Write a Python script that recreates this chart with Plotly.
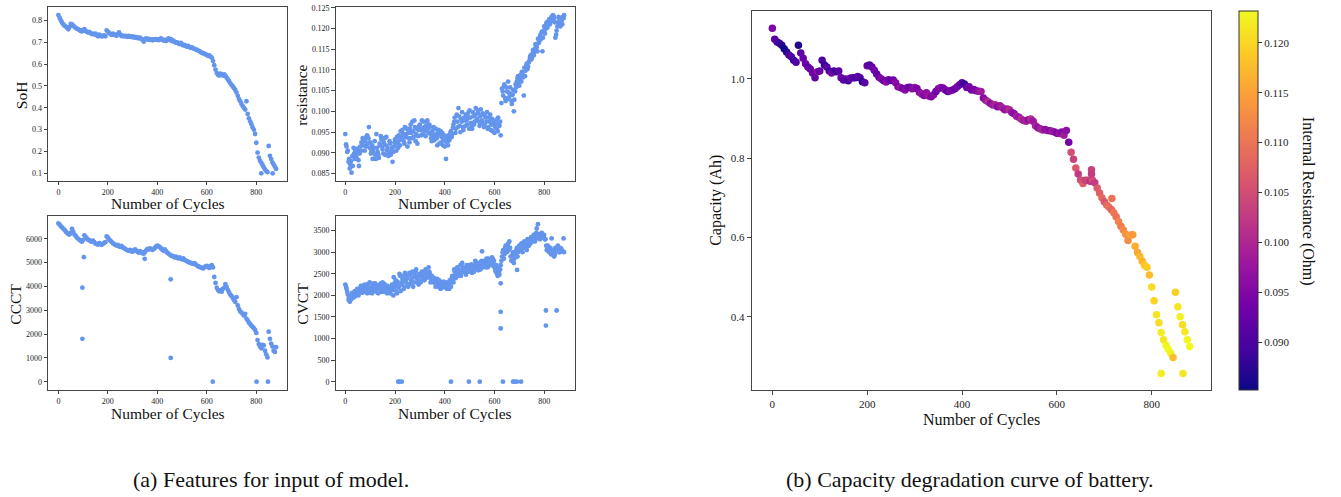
import plotly.graph_objects as go

# ---------------- data ----------------
cycles = list(range(0, 885, 5))
cycles_mid = list(range(3, 883, 5))

soh = [
    0.825, 0.812, 0.800, 0.790, 0.782, 0.776, 0.772, 0.768, 0.760, 0.770,
    0.785, 0.782, 0.776, 0.771, 0.766, 0.762, 0.760, 0.756, 0.752, 0.750,
    0.757, 0.760, 0.752, 0.748, 0.745, 0.748, 0.742, 0.738, 0.740, 0.736,
    0.740, 0.733, 0.728, 0.735, 0.731, 0.727, 0.729, 0.732, 0.728, 0.755,
    0.748, 0.743, 0.738, 0.734, 0.740, 0.736, 0.733, 0.730, 0.738, 0.745,
    0.735, 0.729, 0.731, 0.727, 0.730, 0.728, 0.725, 0.729, 0.726, 0.724,
    0.727, 0.722, 0.725, 0.720, 0.723, 0.718, 0.722, 0.716, 0.712, 0.703,
    0.715, 0.718, 0.713, 0.716, 0.711, 0.714, 0.709, 0.713, 0.711, 0.715,
    0.713, 0.710, 0.715, 0.718, 0.712, 0.708, 0.711, 0.706, 0.712, 0.718,
    0.710, 0.715, 0.705, 0.708, 0.702, 0.698, 0.700, 0.695, 0.692, 0.697,
    0.690, 0.686, 0.688, 0.683, 0.680, 0.684, 0.678, 0.675, 0.677, 0.672,
    0.670, 0.668, 0.665, 0.662, 0.660, 0.655, 0.652, 0.650, 0.648, 0.645,
    0.642, 0.638, 0.640, 0.634, 0.630, 0.615, 0.595, 0.575, 0.560, 0.552,
    0.548, 0.556, 0.552, 0.548, 0.553, 0.547, 0.538, 0.530, 0.522, 0.512,
    0.505, 0.498, 0.490, 0.482, 0.470, 0.455, 0.440, 0.430, 0.418, 0.408,
    0.400, 0.392, 0.430, 0.372, 0.352, 0.338, 0.325, 0.310, 0.300, 0.280,
    0.240, 0.195, 0.172, 0.158, 0.148, 0.138, 0.128, 0.118, 0.110, 0.105,
    0.225, 0.180, 0.165, 0.150, 0.140, 0.130, 0.120,
]

resistance = [
    0.0945, 0.0915, 0.0905, 0.0885, 0.0872, 0.0852, 0.0868, 0.0898, 0.0905, 0.0889,
    0.0902, 0.0868, 0.0915, 0.0925, 0.0935, 0.0918, 0.0928, 0.0938, 0.0922, 0.0962,
    0.0925, 0.0905, 0.0885, 0.0912, 0.0895, 0.0945, 0.0902, 0.0888, 0.0918, 0.0932,
    0.0908, 0.0925, 0.0895, 0.0938, 0.0912, 0.0898, 0.0922, 0.0905, 0.0878, 0.0915,
    0.0932, 0.0905, 0.0925, 0.0942, 0.0918, 0.0938, 0.0955, 0.0928, 0.0962, 0.0945,
    0.0915, 0.0935, 0.0958, 0.0948, 0.0975, 0.0938, 0.0962, 0.0945, 0.0922, 0.0955,
    0.0968, 0.0942, 0.0958, 0.0975, 0.0952, 0.0965, 0.0978, 0.0948, 0.0962, 0.0935,
    0.0952, 0.0962, 0.0938, 0.0945, 0.0918, 0.0955, 0.0942, 0.0925, 0.0948, 0.0932,
    0.0915, 0.0885, 0.0925, 0.0942, 0.0935, 0.0952, 0.0945, 0.0968, 0.0985, 0.0958,
    0.0975, 0.1008, 0.0965, 0.0982, 0.0998, 0.0955, 0.0978, 0.0992, 0.0968, 0.0985,
    0.1002, 0.0972, 0.0958, 0.0988, 0.0975, 0.1008, 0.0982, 0.0995, 0.0965, 0.1005,
    0.0978, 0.0992, 0.0968, 0.0985, 0.0998, 0.0962, 0.0975, 0.0955, 0.0982, 0.0968,
    0.0948, 0.0972, 0.0958, 0.0985, 0.0965, 0.0942, 0.1055, 0.1038, 0.1065, 0.1025,
    0.1048, 0.1072, 0.1035, 0.1042, 0.1018, 0.1052, 0.1028, 0.1065, 0.1072, 0.1085,
    0.1062, 0.1088, 0.1095, 0.1082, 0.1105, 0.1098, 0.1115, 0.1108, 0.1122, 0.1135,
    0.1128, 0.1148, 0.1142, 0.1162, 0.1155, 0.1175, 0.1168, 0.1185, 0.1192, 0.1178,
    0.1205, 0.1198, 0.1215, 0.1208, 0.1222, 0.1215, 0.1228, 0.1232, 0.1225, 0.1178,
    0.1195, 0.1215, 0.1225, 0.1205, 0.1218, 0.1228, 0.1232,
]

# extra resistance readings between the 5-cycle marks (the band is dense)
resistance_mid = [
    0.0920, 0.0902, 0.0878, 0.0862, 0.0880, 0.0892, 0.0912, 0.0885, 0.0895, 0.0910,
    0.0882, 0.0898, 0.0905, 0.0918, 0.0932, 0.0905, 0.0915, 0.0942, 0.0935, 0.0912,
    0.0898, 0.0918, 0.0902, 0.0928, 0.0885, 0.0912, 0.0895, 0.0922, 0.0940, 0.0915,
    0.0898, 0.0935, 0.0918, 0.0905, 0.0892, 0.0928, 0.0895, 0.0912, 0.0902, 0.0925,
    0.0918, 0.0938, 0.0912, 0.0930, 0.0952, 0.0935, 0.0945, 0.0922, 0.0938, 0.0958,
    0.0948, 0.0925, 0.0968, 0.0935, 0.0952, 0.0978, 0.0928, 0.0958, 0.0940, 0.0965,
    0.0955, 0.0978, 0.0945, 0.0962, 0.0940, 0.0975, 0.0958, 0.0968, 0.0945, 0.0928,
    0.0942, 0.0930, 0.0958, 0.0935, 0.0948, 0.0922, 0.0952, 0.0938, 0.0918, 0.0942,
    0.0928, 0.0935, 0.0918, 0.0930, 0.0948, 0.0938, 0.0960, 0.0975, 0.0948, 0.0992,
    0.0962, 0.0988, 0.0950, 0.0975, 0.0962, 0.0985, 0.0965, 0.0978, 0.0995, 0.0958,
    0.0985, 0.0965, 0.0998, 0.0968, 0.0992, 0.0978, 0.1002, 0.0975, 0.0988, 0.0972,
    0.0995, 0.0962, 0.0988, 0.0975, 0.0958, 0.0985, 0.0992, 0.0968, 0.0952, 0.0975,
    0.0962, 0.0980, 0.0952, 0.0968, 0.0975, 0.1020, 0.1048, 0.1060, 0.1032, 0.1058,
    0.1030, 0.1045, 0.1058, 0.1025, 0.1040, 0.1000, 0.1048, 0.1058, 0.1080, 0.1070,
    0.1078, 0.1072, 0.1090, 0.1038, 0.1085, 0.1110, 0.1102, 0.1118, 0.1130, 0.1125,
    0.1140, 0.1135, 0.1152, 0.1160, 0.1145, 0.1165, 0.1180, 0.1175, 0.1145, 0.1195,
    0.1188, 0.1210, 0.1202, 0.1218, 0.1210, 0.1225, 0.1220, 0.1230, 0.1215, 0.1185,
    0.1205, 0.1228, 0.1212, 0.1222, 0.1210, 0.1225,
]

ccct = [
    6650, 6600, 6520, 6480, 6420, 6380, 6300, 6250, 6200, 6180,
    6250, 6420, 6300, 6180, 6120, 6050, 6000, 5960, 5920, 5880,
    5950, 6150, 6080, 6020, 5960, 5950, 5900, 5880, 5920, 5860,
    5800, 5780, 5760, 5820, 5780, 5750, 5790, 5830, 5860, 6100,
    6050, 5980, 5920, 5870, 5820, 5780, 5750, 5720, 5750, 5690,
    5660, 5700, 5640, 5610, 5580, 5540, 5520, 5500, 5540, 5480,
    5460, 5520, 5560, 5500, 5450, 5420, 5480, 5440, 5400, 5380,
    5450, 5520, 5580, 5550, 5600, 5570, 5540, 5560, 5620, 5680,
    5720, 5690, 5650, 5600, 5540, 5500, 5560, 5480, 5420, 5380,
    5340, 5300, 5280, 5260, 5220, 5250, 5200, 5180, 5220, 5160,
    5140, 5180, 5120, 5090, 5060, 5030, 5010, 4990, 4960, 4950,
    4980, 4920, 4880, 4850, 4820, 4800, 4780, 4760, 4800, 4840,
    4860, 4820, 4780, 4850, 4900, 4800, 4400, 4150, 3950, 3850,
    3800, 3850, 3780, 3900, 3950, 4100, 3980, 3850, 3750, 3650,
    3600, 3520, 3420, 3350, 3550, 3200, 3050, 2950, 2900, 2850,
    2780, 2850, 2650, 2580, 2480, 2420, 2350, 2300, 2250, 2180,
    2050, 1750, 1580, 1480, 1400, 1550, 1520, 1300, 1150, 1020,
    2100, 1800, 1600, 1480, 1300, 1250, 1450,
]

cvct = [
    2250, 2150, 2020, 1950, 1880, 1920, 2000, 2050, 1980, 2080,
    2120, 2050, 2180, 2100, 2220, 2150, 2080, 2200, 2260, 2120,
    2060, 2180, 2240, 2100, 2280, 2150, 2060, 2200, 2250, 2120,
    2300, 2180, 2080, 2150, 2220, 2100, 2050, 2180, 2120, 2420,
    2200, 2100, 2320, 2180, 2450, 2250, 2380, 2150, 2520, 2300,
    2400, 2250, 2480, 2350, 2550, 2300, 2420, 2600, 2380, 2250,
    2450, 2350, 2500, 2420, 2550, 2400, 2480, 2650, 2500, 2380,
    2420, 2300, 2350, 2250, 2380, 2200, 2300, 2250, 2180, 2320,
    2200, 2280, 2150, 2250, 2350, 2200, 2450, 2300, 2550, 2400,
    2650, 2500, 2580, 2450, 2750, 2550, 2600, 2480, 2650, 2550,
    2700, 2600, 2520, 2680, 2600, 2750, 2650, 2580, 2700, 2620,
    3020, 2720, 2800, 2650, 2750, 2850, 2700, 2800, 2880, 2750,
    2650, 2550, 2500, 2620, 2480, 2700, 2900, 3050, 2950, 3150,
    3000, 3200, 3250, 2900, 2800, 3000, 2850, 2950, 3100, 3000,
    3150, 3050, 3200, 3100, 3250, 3150, 3050, 3200, 3300, 3200,
    3350, 3250, 3400, 3300, 3550, 3650, 3420, 3380, 3450, 3350,
    3400, 3300, 3050, 3150, 3000, 3100, 3320, 2950, 2900, 3100,
    3050, 3150, 3000, 3100, 3050, 3020, 3000,
]

# extra CVCT readings between the 5-cycle marks
cvct_mid = [
    2200, 2080, 1900, 1850, 1980, 2060, 1950, 2100, 2020, 2150,
    2000, 2120, 2220, 2060, 2160, 2250, 2120, 2050, 2180, 2300,
    2120, 2050, 2280, 2180, 2100, 2230, 2050, 2160, 2280, 2080,
    2200, 2260, 2120, 2050, 2180, 2080, 2150, 2250, 2000, 2280,
    2350, 2050, 2250, 2500, 2100, 2300, 2450, 2200, 2350, 2450,
    2200, 2520, 2280, 2400, 2200, 2480, 2550, 2300, 2450, 2500,
    2300, 2550, 2450, 2350, 2600, 2500, 2420, 2550, 2300, 2450,
    2350, 2400, 2200, 2320, 2280, 2350, 2150, 2200, 2300, 2250,
    2180, 2300, 2230, 2150, 2280, 2400, 2350, 2600, 2450, 2500,
    2600, 2450, 2700, 2520, 2650, 2600, 2550, 2700, 2600, 2650,
    2550, 2720, 2650, 2550, 2800, 2700, 2650, 2750, 2600, 2800,
    2650, 2780, 2700, 2850, 2650, 2800, 2750, 2700, 2850, 2800,
    2600, 2700, 2450, 2550, 2600, 2800, 3000, 2850, 3100, 3050,
    3150, 3050, 3100, 2800, 2950, 2750, 2900, 3050, 2900, 3100,
    3050, 3200, 3000, 3150, 3200, 3100, 3300, 3150, 3250, 3350,
    3300, 3400, 3250, 3450, 3350, 3400, 3300, 3350, 3400, 3350,
    3300, 3150, 3050, 3100, 3000, 2950, 3050, 3000, 2950, 3050,
    3100, 3050, 3000, 3080, 3020, 3320,
]

capacity = [
    1.128, 1.100, 1.093, 1.090, 1.085, 1.076, 1.068, 1.060, 1.056, 1.047,
    1.042, 1.085, 1.065, 1.052, 1.038, 1.030, 1.025, 1.015, 1.003, 1.018,
    1.020, 1.047, 1.035, 1.030, 1.020, 1.015, 1.020, 1.018, 1.020, 1.003,
    0.997, 1.000, 0.995, 1.002, 1.003, 1.003, 1.006, 1.003, 0.993, 0.990,
    1.033, 1.035, 1.030, 1.022, 1.012, 1.004, 1.000, 0.995, 0.992, 0.998,
    0.996, 0.997, 0.990, 0.980, 0.978, 0.976, 0.972, 0.978, 0.979, 0.975,
    0.978, 0.976, 0.966, 0.962, 0.958, 0.965, 0.957, 0.955, 0.960, 0.968,
    0.975, 0.978, 0.977, 0.972, 0.968, 0.970, 0.972, 0.975, 0.980, 0.985,
    0.990, 0.987, 0.978, 0.980, 0.972, 0.973, 0.970, 0.969, 0.968, 0.952,
    0.946, 0.942, 0.938, 0.934, 0.935, 0.930, 0.932, 0.927, 0.922, 0.924,
    0.922, 0.915, 0.912, 0.906, 0.903, 0.898, 0.895, 0.893, 0.897, 0.899,
    0.893, 0.882, 0.877, 0.874, 0.871, 0.872, 0.870, 0.869, 0.868, 0.866,
    0.863, 0.862, 0.866, 0.858, 0.870, 0.840, 0.815, 0.797, 0.775, 0.760,
    0.745, 0.736, 0.744, 0.744, 0.742, 0.745, 0.738, 0.725, 0.712, 0.700,
    0.690, 0.682, 0.676, 0.670, 0.662, 0.652, 0.640, 0.628, 0.619, 0.608,
    0.592, 0.606, 0.607, 0.578, 0.562, 0.552, 0.540, 0.530, 0.525, 0.505,
    0.475, 0.440, 0.405, 0.385, 0.360, 0.342, 0.328, 0.318, 0.308, 0.297,
    0.462, 0.425, 0.400, 0.380, 0.362, 0.342, 0.325,
]

# isolated points that sit away from the main trends
soh_out_cycles = [820, 866]
soh_out_values = [0.10, 0.10]
ccct_out_cycles = [97, 97, 103, 349, 454, 454, 624, 801, 847]
ccct_out_values = [1800, 3950, 5230, 5160, 4300, 1000, 0, 0, 0]
cvct_out_cycles = [213, 217, 227, 425, 497, 541, 625, 625, 625, 634,
                   675, 680, 690, 691, 707, 807, 807, 850]
cvct_out_values = [0, 0, 0, 0, 0, 0, 2280, 1620, 1235, 0,
                   0, 0, 0, 2590, 0, 1650, 1300, 1650]
cap_out_cycles = [673, 673, 716, 820, 866]
cap_out_values = [0.771, 0.760, 0.698, 0.257, 0.257]
cap_out_res = [0.1035, 0.1030, 0.1100, 0.1222, 0.1215]

x_ticks = [0, 200, 400, 600, 800]
soh_ticks = [0.1, 0.2, 0.3, 0.4, 0.5, 0.6, 0.7, 0.8]
res_ticks = [0.085, 0.090, 0.095, 0.100, 0.105, 0.110, 0.115, 0.120, 0.125]
ccct_ticks = [0, 1000, 2000, 3000, 4000, 5000, 6000]
cvct_ticks = [0, 500, 1000, 1500, 2000, 2500, 3000, 3500]
cap_ticks = [0.4, 0.6, 0.8, 1.0]
cbar_ticks = [0.090, 0.095, 0.100, 0.105, 0.110, 0.115, 0.120]

# ---------------- layout helpers ----------------
W, H = 1341, 497
FONT = "Liberation Serif"
BLUE = "#6495ED"


def px_x(v):
    return v / W


def px_y(v):
    return 1 - v / H


def axis(dom, rng, tickvals, fmt, size, anchor, ticklen=3.5):
    return dict(
        domain=dom, range=rng, tickvals=tickvals, tickformat=fmt,
        anchor=anchor, showline=True, linecolor="#454545", linewidth=1,
        mirror=True, ticks="outside", ticklen=ticklen, tickwidth=1,
        tickcolor="#454545", showgrid=False, zeroline=False,
        tickfont=dict(family=FONT, size=size, color="#222"),
    )


fig = go.Figure()

small = dict(size=4.8, color=BLUE, line=dict(width=0))


def dots(x, y, xa, ya):
    fig.add_trace(go.Scatter(x=x, y=y, mode="markers", marker=small,
                             xaxis=xa, yaxis=ya, showlegend=False,
                             hoverinfo="skip"))


dots(cycles, soh, "x", "y")
dots(soh_out_cycles, soh_out_values, "x", "y")
dots(cycles, resistance, "x2", "y2")
dots(cycles_mid, resistance_mid, "x2", "y2")
dots(cycles, ccct, "x3", "y3")
dots(ccct_out_cycles, ccct_out_values, "x3", "y3")
dots(cycles, cvct, "x4", "y4")
dots(cycles_mid, cvct_mid, "x4", "y4")
dots(cvct_out_cycles, cvct_out_values, "x4", "y4")

cmin, cmax = min(resistance), max(resistance)
fig.add_trace(go.Scatter(
    x=cycles + cap_out_cycles, y=capacity + cap_out_values, mode="markers",
    xaxis="x5", yaxis="y5", showlegend=False,
    marker=dict(
        size=7.5, color=resistance + cap_out_res, colorscale="Plasma",
        cmin=cmin, cmax=cmax, line=dict(width=0),
        colorbar=dict(
            x=px_x(1239.3), xanchor="left", xpad=0,
            y=px_y(389.3), yanchor="bottom", ypad=0,
            len=381 / H, lenmode="fraction",
            thickness=19, thicknessmode="pixels",
            outlinewidth=1, outlinecolor="#333",
            ticks="outside", ticklen=4, tickcolor="#333",
            tickvals=cbar_ticks, tickformat=".3f",
            tickfont=dict(family=FONT, size=11, color="#222"),
        ),
    ),
))

xA = [px_x(48), px_x(287)]
xB = [px_x(335.7), px_x(575)]
yTop = [px_y(179), px_y(4)]
yBot = [px_y(389), px_y(214.3)]

annotations = []


def label(text, x, y, size, angle=0):
    annotations.append(dict(
        text=text, x=px_x(x), y=px_y(y), xref="paper", yref="paper",
        showarrow=False, textangle=angle, xanchor="center", yanchor="middle",
        font=dict(family=FONT, size=size, color="#111"),
    ))


label("Number of Cycles", 167.8, 202, 15.5)
label("Number of Cycles", 455, 202, 15.5)
label("Number of Cycles", 167.8, 412.5, 15.5)
label("Number of Cycles", 455, 412.5, 15.5)
label("SoH", 21.5, 93.3, 15.5, -90)
label("resistance", 301.7, 92.5, 15.5, -90)
label("CCCT", 16, 302.5, 15.5, -90)
label("CVCT", 302.5, 303, 15.5, -90)
label("Number of Cycles", 981, 420, 16)
label("Capacity (Ah)", 716, 199, 16, -90)
label("Internal Resistance (Ohm)", 1308, 199, 16, 90)
label("(a) Features for input of model.", 271, 479, 22)
label("(b) Capacity degradation curve of battery.", 970, 479, 22)

fig.update_layout(
    width=W, height=H, autosize=False,
    margin=dict(l=0, r=0, t=0, b=0),
    paper_bgcolor="white", plot_bgcolor="white",
    font=dict(family=FONT),
    xaxis=axis(xA, [-42, 924], x_ticks, "d", 8, "y"),
    yaxis=axis(yTop, [0.065, 0.862], soh_ticks, ".1f", 8, "x"),
    xaxis2=axis(xB, [-38.6, 924], x_ticks, "d", 8, "y2"),
    yaxis2=axis(yTop, [0.0832, 0.1252], res_ticks, ".3f", 8, "x2"),
    xaxis3=axis(xA, [-42, 924], x_ticks, "d", 8, "y3"),
    yaxis3=axis(yBot, [-334, 6960], ccct_ticks, "d", 8, "x3"),
    xaxis4=axis(xB, [-38.6, 924], x_ticks, "d", 8, "y4"),
    yaxis4=axis(yBot, [-184, 3839], cvct_ticks, "d", 8, "x4"),
    xaxis5=axis([px_x(751.7), px_x(1211)], [-43.5, 925], x_ticks, "d", 11, "y5", 4),
    yaxis5=axis([px_y(389.3), px_y(8.3)], [0.2153, 1.1706], cap_ticks, ".1f", 11, "x5", 4),
    annotations=annotations,
)

fig.write_html("out.html", config={"displayModeBar": False},
               post_script="document.body.style.margin='0';")
